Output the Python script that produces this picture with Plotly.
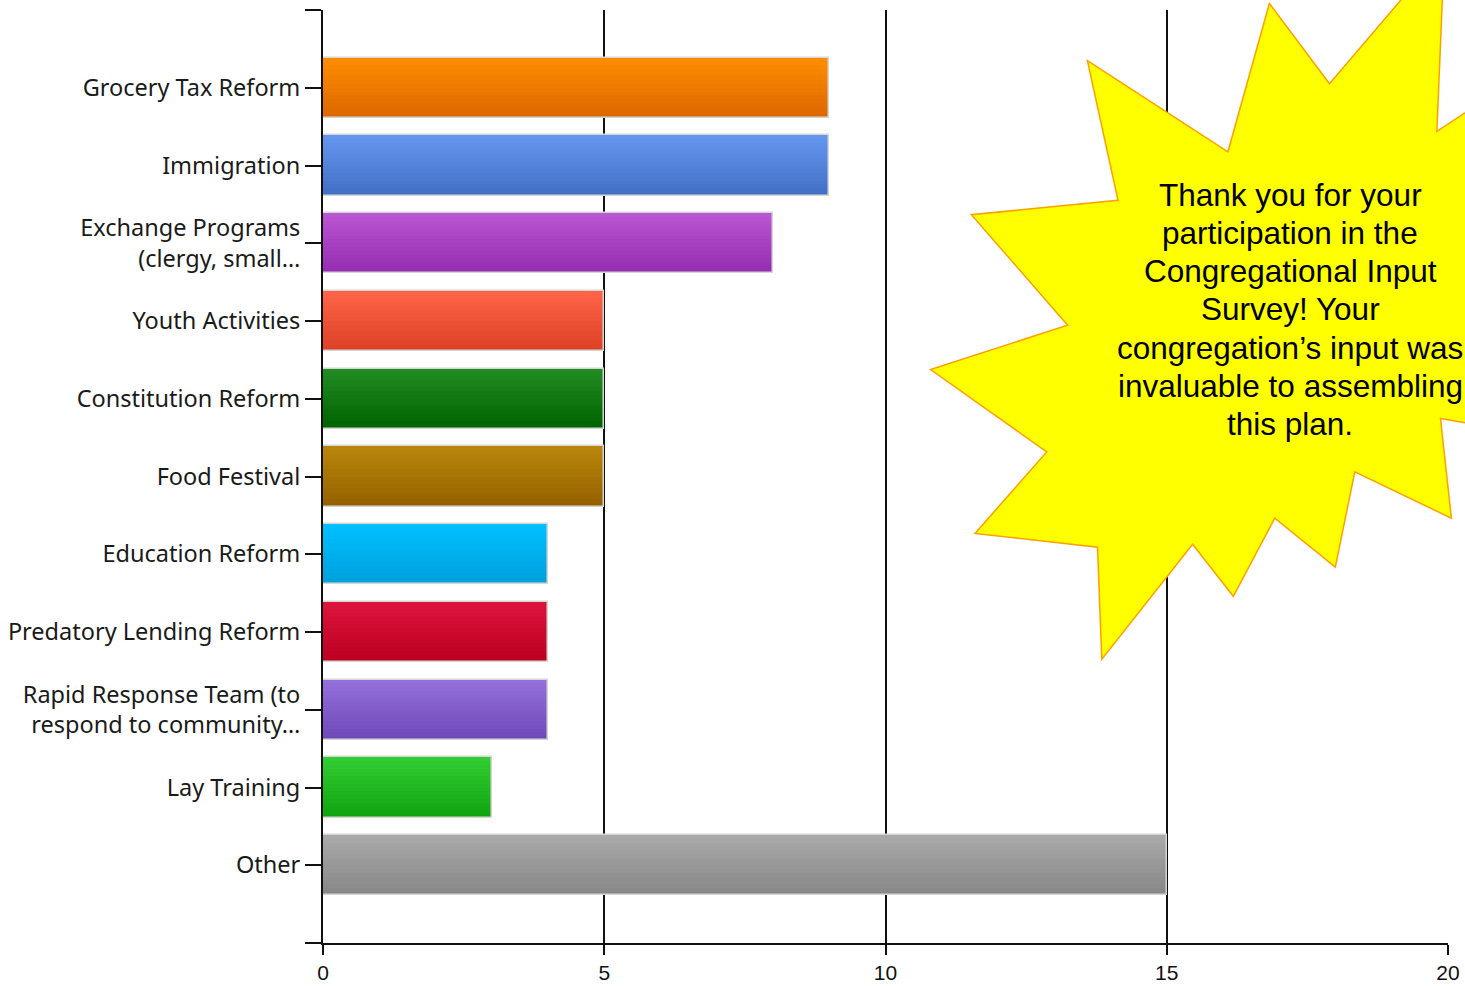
import plotly.graph_objects as go

# ---------------- data ----------------
categories = [
    "Grocery Tax Reform",
    "Immigration",
    "Exchange Programs<br>(clergy, small…",
    "Youth Activities",
    "Constitution Reform",
    "Food Festival",
    "Education Reform",
    "Predatory Lending Reform",
    "Rapid Response Team (to<br>respond to community…",
    "Lay Training",
    "Other",
]
values = [9, 9, 8, 5, 5, 5, 4, 4, 4, 3, 15]
top_colors = ["#FF8C00", "#6495ED", "#BA55D3", "#FF6347", "#228B22", "#B8860B",
              "#00BFFF", "#DC143C", "#9370DB", "#32CD32", "#A9A9A9"]
bottom_colors = ["#DC6800", "#4270C6", "#942DB0", "#DD4126", "#006400", "#956100",
                 "#00A0DC", "#BC0021", "#7049B8", "#10A410", "#878787"]
x_ticks = [0, 5, 10, 15, 20]
note_lines = [
    "Thank you for your",
    "participation in the",
    "Congregational Input",
    "Survey! Your",
    "congregation’s input was",
    "invaluable to assembling",
    "this plan.",
]

# ---------------- layout constants ----------------
W, H = 1465, 986
ML, MR, MT, MB = 323, 17, 10, 43
PW, PH = W - ML - MR, H - MT - MB
BAR_W = 0.775
N = 16


def hex2rgb(h):
    h = h.lstrip("#")
    return [int(h[i:i + 2], 16) for i in (0, 2, 4)]


def mix(c1, c2, t):
    a, b = hex2rgb(c1), hex2rgb(c2)
    return "rgb(%d,%d,%d)" % tuple(round(a[i] + (b[i] - a[i]) * t) for i in range(3))


ypos = list(range(len(categories)))
fig = go.Figure()

# gradient: stacked overlay slices, each from its own top edge down to bar bottom
for k in range(N):
    t = k / (N - 1)
    dw = BAR_W / N
    fig.add_trace(go.Bar(
        x=values, y=ypos, orientation="h",
        width=BAR_W - k * dw, offset=-BAR_W / 2 + k * dw,
        marker=dict(color=[mix(a, b, t) for a, b in zip(top_colors, bottom_colors)],
                    line=dict(width=0)),
        showlegend=False, hoverinfo="skip",
    ))

# light outline around each bar
fig.add_trace(go.Bar(
    x=values, y=ypos, orientation="h", width=BAR_W, offset=-BAR_W / 2,
    marker=dict(color="rgba(0,0,0,0)", line=dict(color="#d6d6d6", width=1.5)),
    showlegend=False, hoverinfo="x",
))

# ---------------- starburst callout ----------------
star_px = [
    (1269.4, 3.5), (1329.5, 83.7), (1444.4, -51), (1436.9, 131.4),
    (1530, 70), (1530, 434), (1440.5, 418.5), (1451.4, 518.2),
    (1354.8, 471.8), (1335.3, 567.2), (1274.8, 518.2), (1233.3, 596.3),
    (1192.6, 544.2), (1101.8, 659.2), (1097.5, 547.3), (975, 533.4),
    (1046.7, 451.9), (930.6, 369.5), (1067.6, 325.2), (971.4, 214.7),
    (1118, 200.3), (1087.4, 60.7), (1227.9, 151.8),
]


def px2paper(x, y):
    return (x - ML) / PW, (MT + PH - y) / PH


path = "M " + " L ".join("%.5f,%.5f" % px2paper(x, y) for x, y in star_px) + " Z"
fig.add_shape(type="path", path=path, xref="paper", yref="paper",
              fillcolor="#FFFF00", line=dict(color="#FFA000", width=1.5),
              layer="above")

line_y = [195, 233, 271, 309, 348, 386, 424]
for txt, yy in zip(note_lines, line_y):
    px, py = px2paper(1290, yy)
    fig.add_annotation(text=txt, x=px, y=py, xref="paper", yref="paper",
                       xanchor="center", yanchor="middle", showarrow=False,
                       font=dict(family="Liberation Sans, Arial, sans-serif",
                                 size=31.5, color="#000000"))

fig.update_layout(
    width=W, height=H,
    margin=dict(l=ML, r=MR, t=MT, b=MB, pad=0),
    paper_bgcolor="white", plot_bgcolor="white",
    barmode="overlay", bargap=0,
    showlegend=False,
    xaxis=dict(
        range=[0, 20], tickvals=x_ticks, ticktext=[str(v) for v in x_ticks],
        showgrid=True, gridcolor="#111111", gridwidth=1.6,
        zeroline=False, showline=True, linecolor="#111111", linewidth=2,
        ticks="outside", ticklen=10, tickwidth=1.6, tickcolor="#111111",
        tickfont=dict(family="Liberation Sans Narrow, Arial Narrow, Liberation Sans, sans-serif",
                      size=21, color="#111111"),
        automargin=False, fixedrange=True,
    ),
    yaxis=dict(
        range=[11, -1],
        tickvals=[-1] + ypos + [11], ticktext=[""] + categories + [""],
        showgrid=False, zeroline=False, showline=True,
        linecolor="#111111", linewidth=2,
        ticks="outside", ticklen=16, tickwidth=1.6, tickcolor="#111111",
        tickfont=dict(family="Noto Sans, DejaVu Sans, sans-serif", size=23.5, color="#1a1a1a"),
        automargin=False, fixedrange=True,
    ),
)

fig.write_html("out.html")
